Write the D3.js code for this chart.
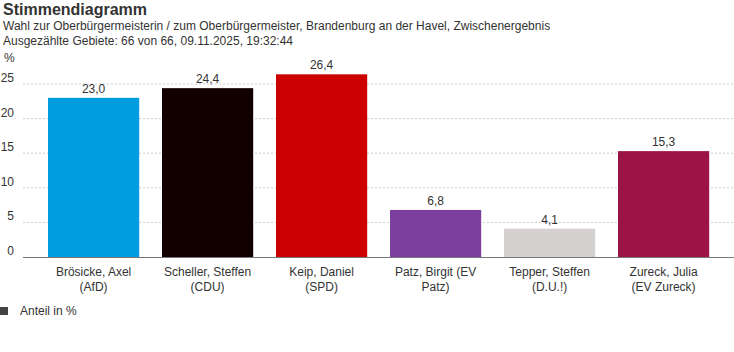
<!DOCTYPE html>
<html>
<head>
<meta charset="utf-8">
<script src="https://cdn.jsdelivr.net/npm/d3@7"></script>
<style>
  body { margin: 0; background: #fff; font-family: "Liberation Sans", Arial, sans-serif; }
  svg text { fill: #333; }
</style>
</head>
<body>
<svg id="chart" width="734" height="352"></svg>
<script>
// values
const candidates = [
  ["Brösicke, Axel", "(AfD)"],
  ["Scheller, Steffen", "(CDU)"],
  ["Keip, Daniel", "(SPD)"],
  ["Patz, Birgit (EV", "Patz)"],
  ["Tepper, Steffen", "(D.U.!)"],
  ["Zureck, Julia", "(EV Zureck)"],
];
const shares = [23.0, 24.4, 26.4, 6.8, 4.1, 15.3];
const colors = ["#009ee0", "#120000", "#cc0000", "#7b3f9e", "#d6d1d1", "#9c1446"];
const yTicks = [0, 5, 10, 15, 20, 25];

const svg = d3.select("#chart");
const fmt = (v) => d3.format(".1f")(v).replace(".", ",");

// header
svg.append("text").attr("x", 3).attr("y", 15)
  .attr("font-size", 16).attr("font-weight", "bold").attr("fill", "#222")
  .text("Stimmendiagramm");
svg.append("text").attr("x", 3).attr("y", 30).attr("font-size", 12)
  .text("Wahl zur Oberbürgermeisterin / zum Oberbürgermeister, Brandenburg an der Havel, Zwischenergebnis");
svg.append("text").attr("x", 3).attr("y", 45).attr("font-size", 12)
  .text("Ausgezählte Gebiete: 66 von 66, 09.11.2025, 19:32:44");

const x = d3.scaleBand()
  .domain(d3.range(shares.length))
  .range([36.6, 720.6])
  .paddingInner(0.2).paddingOuter(0.1);

const y = d3.scaleLinear().domain([0, 25]).range([257, 84]);

svg.append("text").attr("x", 4).attr("y", 62).attr("font-size", 12).text("%");

// gridlines + y labels
const grid = svg.append("g");
grid.selectAll("line").data(yTicks.filter((d) => d > 0)).enter().append("line")
  .attr("x1", 23).attr("x2", 734)
  .attr("y1", (d) => y(d)).attr("y2", (d) => y(d))
  .attr("stroke", "#ccc").attr("stroke-dasharray", "2,2");
grid.selectAll("text").data(yTicks).enter().append("text")
  .attr("x", 14).attr("y", (d) => y(d) - 2)
  .attr("text-anchor", "end").attr("font-size", 12)
  .text((d) => d);

// bars
svg.append("g").selectAll("rect").data(shares).enter().append("rect")
  .attr("x", (_, i) => x(i)).attr("width", x.bandwidth())
  .attr("y", (d) => y(d)).attr("height", (d) => y(0) - y(d))
  .attr("fill", (_, i) => colors[i]);

svg.append("g").selectAll("text").data(shares).enter().append("text")
  .attr("x", (_, i) => x(i) + x.bandwidth() / 2)
  .attr("y", (d) => y(d) - 5)
  .attr("text-anchor", "middle").attr("font-size", 12)
  .text(fmt);

// baseline
svg.append("line").attr("x1", 23).attr("x2", 734)
  .attr("y1", y(0) + 0.5).attr("y2", y(0) + 0.5)
  .attr("stroke", "#777").attr("stroke-width", 1);

// category labels
const lab = svg.append("g").selectAll("text").data(candidates).enter().append("text")
  .attr("x", (_, i) => x(i) + x.bandwidth() / 2)
  .attr("y", 276).attr("text-anchor", "middle").attr("font-size", 12);
lab.append("tspan").attr("x", (_, i) => x(i) + x.bandwidth() / 2).text((d) => d[0]);
lab.append("tspan").attr("x", (_, i) => x(i) + x.bandwidth() / 2).attr("dy", 15).text((d) => d[1]);

// legend
svg.append("rect").attr("x", 0).attr("y", 307).attr("width", 8).attr("height", 8).attr("fill", "#444");
svg.append("text").attr("x", 20).attr("y", 315).attr("font-size", 12).text("Anteil in %");
</script>
</body>
</html>
